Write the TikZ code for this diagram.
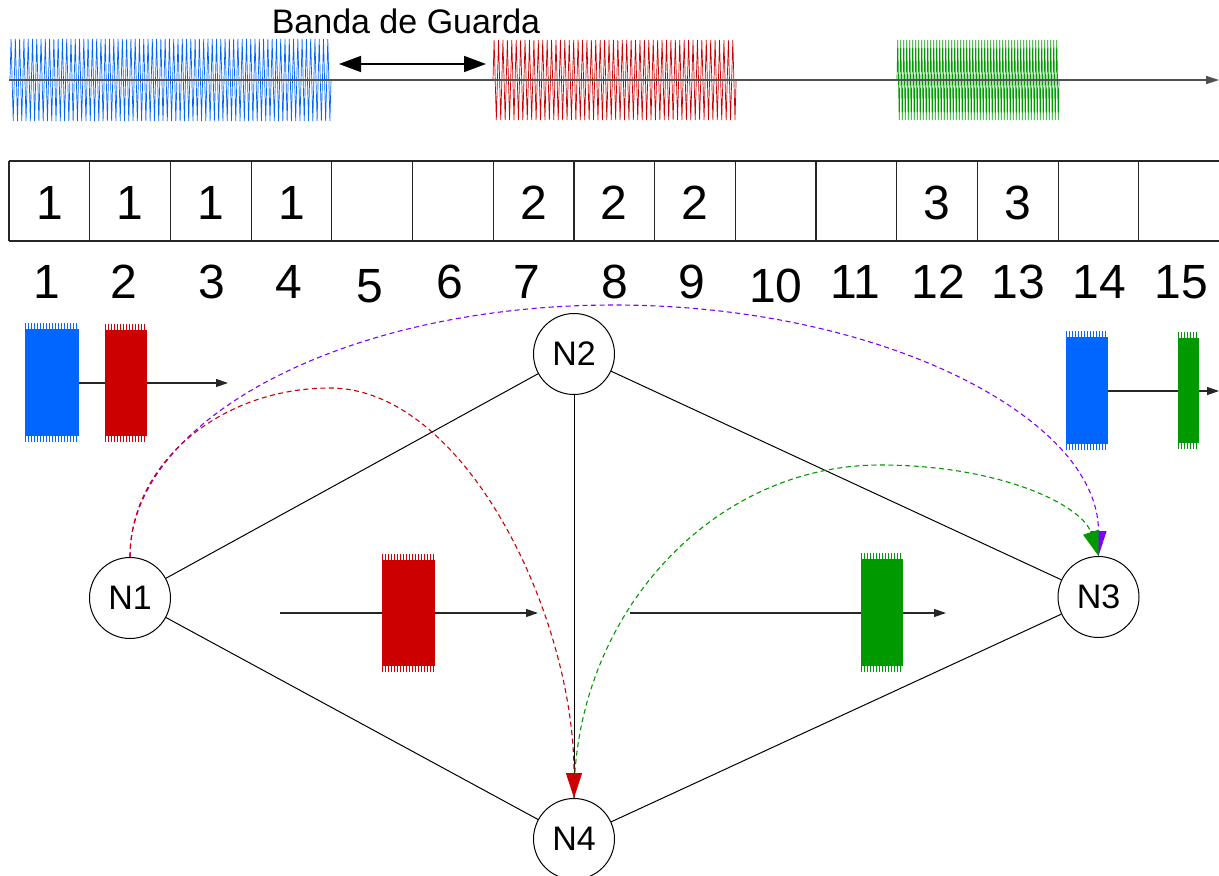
\documentclass[tikz,border=0pt]{standalone}
\usepackage{fontspec}
\setmainfont{Liberation Sans}
\usetikzlibrary{arrows.meta}
\definecolor{sigblue}{RGB}{0,102,255}
\definecolor{sigred}{RGB}{204,0,0}
\definecolor{siggreen}{RGB}{0,153,0}
\definecolor{sigpurple}{RGB}{128,0,255}
\definecolor{axisgray}{RGB}{80,80,80}
% wave: colour, x start, periods, period, y centre, amplitude
\newcommand\sigwave[6]{%
  \draw[#1, line width=0.7pt] (#2,#5) \foreach \k in {1,...,#3}{
    -- ({#2+(\k-0.75)*#4},{#5-#6}) -- ({#2+(\k-0.25)*#4},{#5+#6}) -- ({#2+\k*#4},#5)};}
% burst block: colour, x1, x2, ytop, ybottom
\newcommand\sigburst[5]{%
  \fill[#1] (#2,{#4+6}) rectangle (#3,{#5-6});
  \pgfmathtruncatemacro\nk{(#3-#2-1)/3}
  \foreach \k in {0,...,\nk}{
    \draw[#1, line width=1.1pt] ({#2+0.6+\k*3},#4) -- ({#2+0.6+\k*3},{#4+7});
    \draw[#1, line width=1.1pt] ({#2+0.6+\k*3},#5) -- ({#2+0.6+\k*3},{#5-7});
  }}
\begin{document}
\begin{tikzpicture}[x=1pt,y=-1pt,
  lbl/.style={font=\fontsize{34}{40}\selectfont},
  dig/.style={font=\fontsize{48}{56}\selectfont, inner sep=0pt},
  netnode/.style={circle, draw, line width=1pt, fill=white, minimum size=81pt, inner sep=0pt, lbl},
  link/.style={line width=1pt},
  tbl/.style={line width=1.2pt, black!85},
  route/.style={dashed, dash pattern=on 5pt off 3.5pt, line width=1.1pt},
  bigtip/.style={-{Triangle[length=25pt,width=16pt]}},
  smalltip/.style={-{Triangle[length=12pt,width=8pt]}, line width=1.2pt, black!85}
]
\useasboundingbox (0,0) rectangle (1219,876);

% ---- top spectrum ----
\sigwave{sigblue}{10}{75}{4.28}{80}{41}
\sigwave{sigred}{493}{55}{4.42}{80}{40}
\sigwave{siggreen}{897}{54}{3.0}{80}{40}
\coordinate (ax0) at (9,80);
\coordinate (ax1) at (1219,80);
\draw[line width=1.5pt, axisgray, -{Triangle[length=13pt,width=8pt]}] (ax0) -- (ax1);
\coordinate (gb0) at (339,64);
\coordinate (gb1) at (486,64);
\draw[line width=1.5pt, {Triangle[length=22pt,width=16pt]}-{Triangle[length=22pt,width=16pt]}] (gb0) -- (gb1);
\node[lbl, anchor=base, inner sep=0pt] (guard) at (406,33) {Banda de Guarda};

% ---- slot table ----
\draw[tbl] (9,161) -- (1219,161);
\draw[tbl] (9,241) -- (1219,241);
\foreach \i in {0,...,14} \draw[tbl] ({9+80.7*\i},161) -- ({9+80.7*\i},241);
\foreach \i/\t in {1/1,2/1,3/1,4/1,7/2,8/2,9/2,12/3,13/3}
  \node[dig, anchor=base] (c\i) at ({9+80.7*(\i-0.5)},219) {\t};
\foreach \i/\x/\y in {1/47/298,2/124/298,3/212/298,4/289/298,5/370/302,6/450/298,7/527/298,8/615/298,9/692/298,10/776/302,11/855/298,12/938/298,13/1018/298,14/1099/298,15/1181/298}
  \node[dig, anchor=base] (n\i) at (\x,\y) {\i};

% ---- signal bursts on links ----
\coordinate (s1a) at (25,383);   \coordinate (s1b) at (228,383);
\draw[smalltip] (s1a) -- (s1b);
\sigburst{sigblue}{25}{79}{323}{442}
\sigburst{sigred}{105}{147}{324}{442}

\coordinate (s2a) at (1108,391); \coordinate (s2b) at (1219,391);
\draw[smalltip] (s2a) -- (s2b);
\sigburst{sigblue}{1066}{1108}{331}{450}
\sigburst{siggreen}{1178}{1199}{332}{449}

\coordinate (s3a) at (280,613);  \coordinate (s3b) at (538,613);
\draw[smalltip] (s3a) -- (s3b);
\sigburst{sigred}{382}{435}{554}{672}

\coordinate (s4a) at (630,613);  \coordinate (s4b) at (946,613);
\draw[smalltip] (s4a) -- (s4b);
\sigburst{siggreen}{861}{903}{553}{672}

% ---- network ----
\node[netnode] (N1) at (130,598) {N1};
\node[netnode] (N2) at (574,354) {N2};
\node[netnode] (N3) at (1098.5,597) {N3};
\node[netnode] (N4) at (574,839) {N4};

\draw[link] (N1) -- (N2);
\draw[link] (N1) -- (N4);
\draw[link] (N2) -- (N3);
\draw[link] (N2) -- (N4);
\draw[link] (N3) -- (N4);

% ---- lightpaths ----
\draw[route, sigpurple, bigtip] (N1.north) .. controls (130,418) and (347,305) .. (614,305)
  .. controls (881,305) and (1098.5,418) .. (N3.north);
\draw[route, siggreen, bigtip] (N4.north) .. controls (574,615) and (712,465) .. (880,465)
  .. controls (1000,465) and (1082,505) .. (N3.north);
\draw[route, sigred, bigtip] (N1.north) .. controls (130,464) and (220,388) .. (330,388)
  .. controls (464,388) and (574,614) .. (N4.north);
\end{tikzpicture}
\end{document}
